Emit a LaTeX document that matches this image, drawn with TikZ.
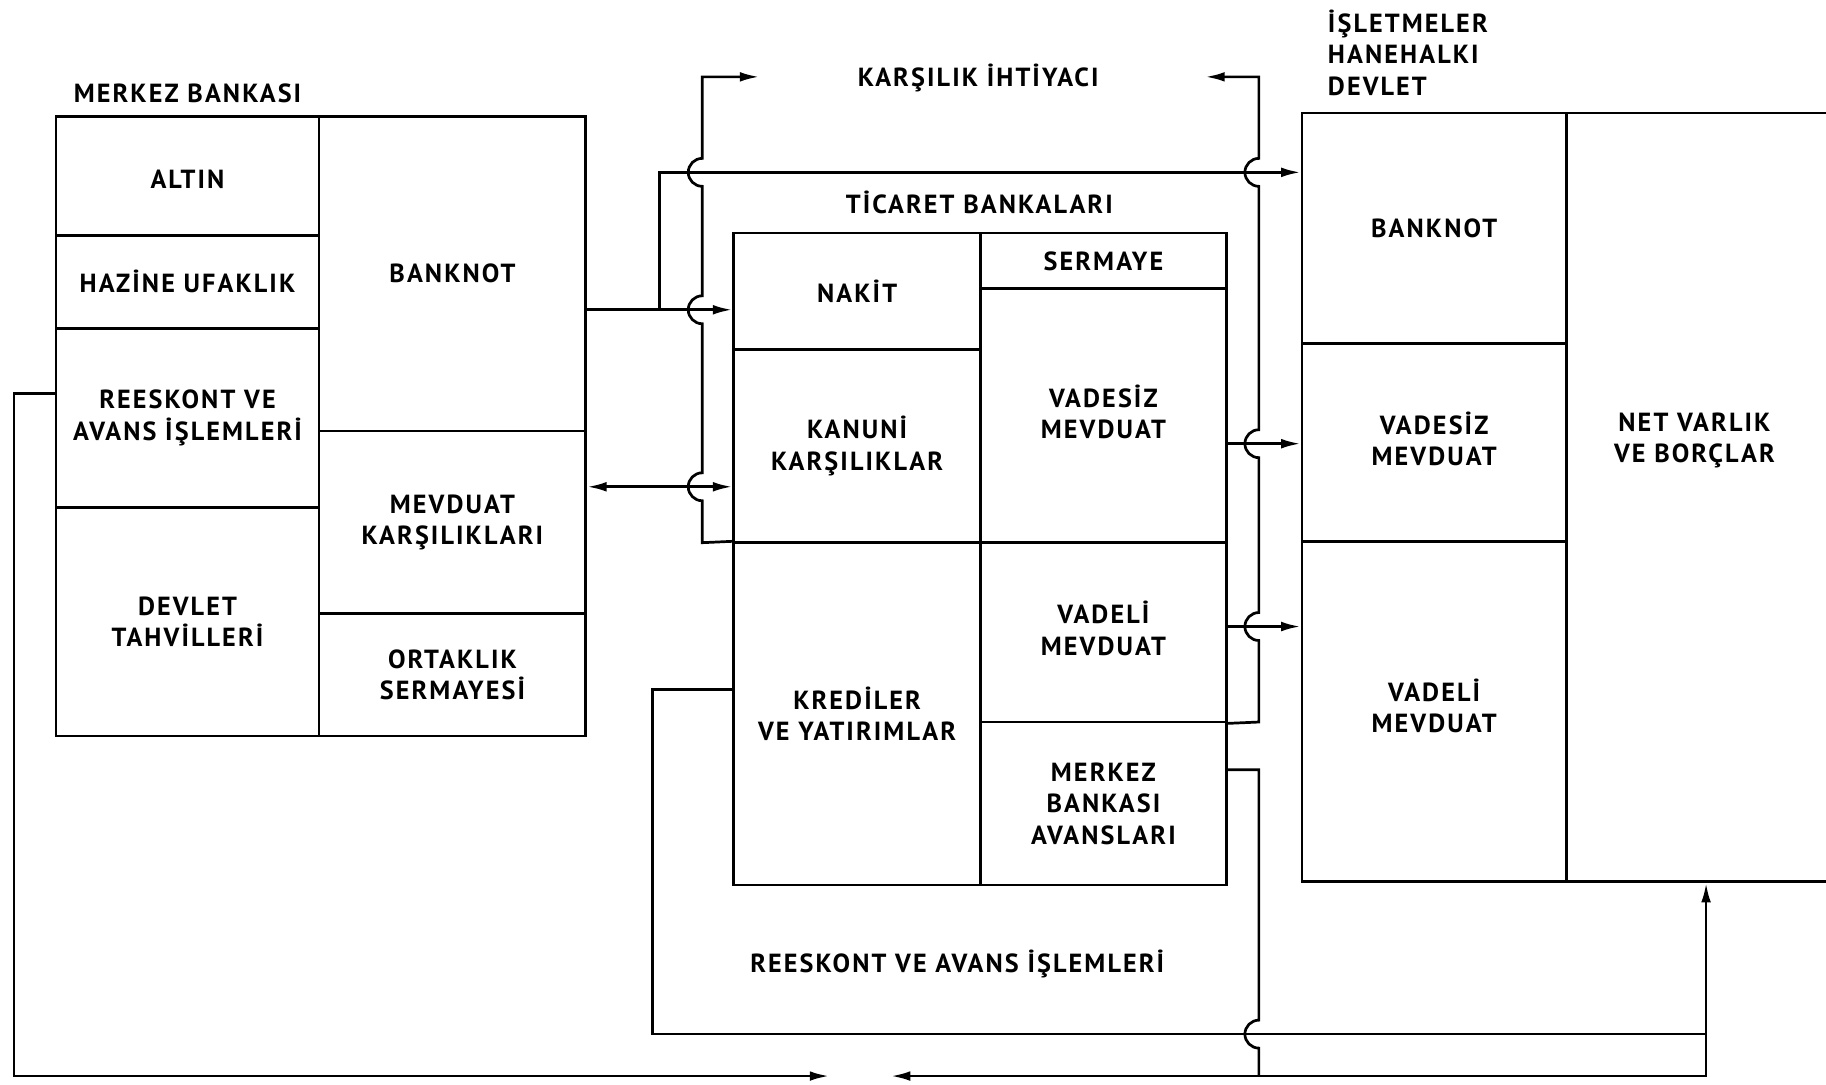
\documentclass[tikz,border=0pt]{standalone}
\usepackage{fontspec}
\setmainfont{PT Sans}[LetterSpace=8]
\usetikzlibrary{arrows.meta,fit}
\tikzset{
  lbl/.style={inner sep=0pt,align=center,font=\bfseries\fontsize{13.5}{16.2}\selectfont},
  cell/.style={draw,line width=1.4pt,inner sep=0pt,fit={#1}},
  arr/.style={line width=1.4pt,-{Latex[length=10pt,width=5pt]}},
  arrs/.style={line width=1.4pt,{Latex[length=10pt,width=5pt]}-{Latex[length=10pt,width=5pt]}},
  line/.style={line width=1.4pt}
}
\begin{document}
\begin{tikzpicture}[x=0.6pt,y=-0.6pt]
\useasboundingbox (0,0) rectangle (1568,931);
\clip (0,0) rectangle (1568,931);
% merkez bankasi
\node[lbl,anchor=west] (mbTitle) at (63,80) {MERKEZ BANKASI};
\node[cell={(48,100) (274,202)},label={[lbl,yshift=-2]center:ALTIN}] (mbAltin) {};
\node[cell={(48,202) (274,282)},label={[lbl]center:HAZİNE UFAKLIK}] (mbHazine) {};
\node[cell={(48,282) (274,436)},label={[lbl]center:REESKONT VE\\AVANS İŞLEMLERİ}] (mbReeskont) {};
\node[cell={(48,436) (274,632)},label={[lbl]center:DEVLET\\TAHVİLLERİ}] (mbDevlet) {};
\node[cell={(274,100) (503,370)},label={[lbl]center:BANKNOT}] (mbBanknot) {};
\node[cell={(274,370) (503,527)},label={[lbl]center:MEVDUAT\\KARŞILIKLARI}] (mbMevduat) {};
\node[cell={(274,527) (503,632)},label={[lbl]center:ORTAKLIK\\SERMAYESİ}] (mbOrtaklik) {};
% ticaret bankalari
\node[lbl] (tbTitle) at (841,174) {TİCARET BANKALARI};
\node[cell={(630,200) (842,300)},label={[lbl]center:NAKİT}] (tbNakit) {};
\node[cell={(630,300) (842,466)},label={[lbl]center:KANUNİ\\KARŞILIKLAR}] (tbKanuni) {};
\node[cell={(630,466) (842,760)},label={[lbl]center:KREDİLER\\VE YATIRIMLAR}] (tbKredi) {};
\node[cell={(842,200) (1053,248)},label={[lbl]center:SERMAYE}] (tbSermaye) {};
\node[cell={(842,248) (1053,466)},label={[lbl,yshift=2]center:VADESİZ\\MEVDUAT}] (tbVadesiz) {};
\node[cell={(842,466) (1053,620)},label={[lbl,yshift=2]center:VADELİ\\MEVDUAT}] (tbVadeli) {};
\node[cell={(842,620) (1053,760)},label={[lbl]center:MERKEZ\\BANKASI\\AVANSLARI}] (tbAvans) {};
% isletmeler, hanehalki, devlet
\node[lbl,anchor=north west,align=left] (hhTitle) at (1140,8) {İŞLETMELER\\HANEHALKI\\DEVLET};
\node[cell={(1118,97) (1345,295)},label={[lbl]center:BANKNOT}] (hhBanknot) {};
\node[cell={(1118,295) (1345,465)},label={[lbl,yshift=2]center:VADESİZ\\MEVDUAT}] (hhVadesiz) {};
\node[cell={(1118,465) (1345,757)},label={[lbl,yshift=3]center:VADELİ\\MEVDUAT}] (hhVadeli) {};
\node[cell={(1345,97) (1585,757)}] (hhNet) {};
\node[lbl] (hhNetText) at (1455,378) {NET VARLIK\\VE BORÇLAR};
% flows
\node[lbl] (ihtiyac) at (840,67) {KARŞILIK İHTİYACI};
\node[lbl] (reeskont) at (822,828) {REESKONT VE AVANS İŞLEMLERİ};
\draw[arr] (mbBanknot.east |- 0,266) -- (tbNakit.west |- 0,266);
\draw[arr] (566,266) -- (566,148) -- (hhBanknot.west |- 0,148);
\draw[arrs] (mbMevduat.east |- 0,418) -- (tbKanuni.west |- 0,418);
\draw[arr] (tbKredi.north west) -- (603,466) -- (603,430)
  arc[start angle=-90,end angle=-270,radius=7.2pt] -- (603,278)
  arc[start angle=-90,end angle=-270,radius=7.2pt] -- (603,160)
  arc[start angle=-90,end angle=-270,radius=7.2pt] -- (603,66) -- (652,66);
\draw[arr] (tbVadeli.south east) -- (1081,620) -- (1081,550)
  arc[start angle=-90,end angle=-270,radius=7.2pt] -- (1081,393)
  arc[start angle=-90,end angle=-270,radius=7.2pt] -- (1081,160)
  arc[start angle=-90,end angle=-270,radius=7.2pt] -- (1081,66) -- (1035,66);
\draw[arr] (tbVadesiz.east |- 0,381) -- (hhVadesiz.west |- 0,381);
\draw[arr] (tbVadeli.east |- 0,538) -- (hhVadeli.west |- 0,538);
\draw[arr] (tbKredi.west |- 0,592) -- (560,592) -- (560,888) -- (1465,888) -- (hhNet.south);
\draw[line] (tbAvans.east |- 0,661) -- (1081,661) -- (1081,876)
  arc[start angle=90,end angle=270,radius=7.2pt] -- (1081,924);
\draw[arr] (1465,888) -- (1465,924) -- (765,924);
\draw[arr] (mbReeskont.west |- 0,338) -- (12,338) -- (12,924) -- (712,924);
\end{tikzpicture}
\end{document}
